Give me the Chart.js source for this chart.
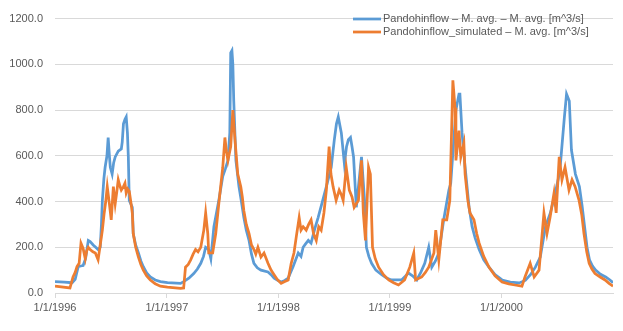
<!DOCTYPE html>
<html>
<head>
    <meta charset="UTF-8">
    <title>Pandoh inflow</title>
    <style type="text/css">
        body {
            background-color: white;
            margin: 0;
            padding: 0;
        }

        #lineChartContainer {
            width: 623px;
            height: 331px;
        }
    </style>

    <script src="https://cdn.jsdelivr.net/npm/chart.js@4.4.0/dist/chart.umd.min.js"></script>

    <script type="text/javascript">
    // days counted from 1/1/1996
    var obsDays = [0, 30, 56, 66, 76, 84, 92, 100, 109, 115,
        125, 133, 141, 148, 152, 155, 160, 164, 170, 174,
        178, 181, 187, 192, 197, 207, 217, 220, 224, 229,
        233, 237, 240, 243, 248, 253, 256, 264, 273, 281,
        289, 300, 312, 328, 345, 368, 411, 421, 438, 454,
        466, 477, 486, 493, 503, 510, 520, 536, 549, 558,
        566, 572, 575, 579, 582, 585, 592, 602, 610, 618,
        626, 635, 643, 651, 662, 674, 697, 707, 717, 730,
        740, 752, 763, 779, 796, 805, 812, 820, 829, 838,
        850, 861, 875, 888, 904, 914, 921, 927, 937, 947,
        954, 960, 967, 972, 977, 986, 993, 1003, 1013, 1019,
        1027, 1036, 1050, 1069, 1085, 1101, 1134, 1157, 1170, 1184,
        1197, 1210, 1223, 1233, 1245, 1256, 1272, 1289, 1295, 1305,
        1312, 1322, 1325, 1332, 1342, 1355, 1365, 1375, 1388, 1403,
        1420, 1440, 1463, 1490, 1519, 1539, 1556, 1572, 1588, 1605,
        1621, 1637, 1647, 1654, 1667, 1674, 1683, 1690, 1703, 1716,
        1725, 1733, 1741, 1749, 1759, 1769, 1785, 1802, 1815, 1826];
    var obsFlow = [50, 48, 45, 60, 115, 118, 120, 150, 230, 225,
        210, 200, 190, 200, 300, 405, 500, 550, 600, 680,
        600, 550, 520, 570, 595, 620, 630, 660, 740, 760,
        770, 700, 595, 405, 390, 375, 260, 210, 175, 140,
        115, 88, 70, 57, 50, 45, 42, 50, 65, 85,
        105, 130, 160, 200, 190, 150, 290, 405, 510, 545,
        580, 700, 1050, 1060, 1000, 840, 580, 465, 400, 330,
        275, 230, 170, 130, 110, 100, 92, 80, 65, 55,
        48, 55, 65, 115, 175, 160, 200, 215, 230, 218,
        280, 330, 400, 465, 550, 670, 740, 770, 700, 565,
        640, 670, 680, 640, 595, 375, 465, 595, 405, 200,
        160, 130, 100, 80, 65, 57, 57, 87, 75, 57,
        90, 130, 200, 113, 140, 175, 320, 450, 480, 670,
        800, 870, 870, 700, 550, 375, 290, 240, 190, 145,
        113, 80, 57, 48, 44, 55, 80, 113, 157, 290,
        350, 437, 500, 565, 770, 870, 840, 625, 520, 465,
        380, 290, 200, 145, 118, 100, 82, 70, 58, 45];

    var simDays = [0, 49, 59, 66, 72, 79, 85, 92, 99, 104,
        109, 115, 124, 132, 141, 148, 155, 161, 166, 171,
        178, 184, 191, 197, 202, 207, 212, 217, 224, 229,
        233, 238, 243, 248, 253, 256, 264, 273, 281, 289,
        300, 312, 328, 345, 368, 411, 421, 427, 436, 444,
        452, 460, 468, 477, 487, 493, 500, 503, 516, 526,
        536, 549, 556, 561, 566, 575, 582, 589, 598, 608,
        613, 618, 626, 635, 643, 651, 657, 664, 674, 684,
        697, 707, 717, 728, 740, 752, 763, 773, 782, 790,
        799, 805, 812, 822, 830, 838, 846, 855, 863, 871,
        880, 888, 897, 903, 910, 920, 930, 937, 943, 953,
        963, 972, 979, 986, 993, 1003, 1009, 1016, 1026, 1032,
        1039, 1048, 1059, 1075, 1092, 1108, 1124, 1144, 1161, 1174,
        1180, 1200, 1212, 1223, 1240, 1246, 1256, 1269, 1282, 1292,
        1302, 1309, 1312, 1322, 1328, 1338, 1342, 1351, 1358, 1371,
        1380, 1388, 1403, 1420, 1440, 1463, 1485, 1505, 1528, 1538,
        1555, 1568, 1584, 1600, 1610, 1620, 1633, 1640, 1650, 1659,
        1669, 1682, 1692, 1702, 1715, 1724, 1731, 1740, 1748, 1757,
        1767, 1784, 1800, 1813, 1826];
    var simFlow = [30, 22, 70, 90, 115, 130, 218, 195, 150, 185,
        200, 190, 180, 175, 145, 210, 275, 350, 400, 465,
        390, 320, 465, 390, 440, 495, 470, 450, 465, 480,
        437, 455, 445, 400, 350, 260, 200, 157, 125, 100,
        75, 57, 40, 30, 26, 20, 22, 113, 125, 145,
        170, 190, 180, 200, 275, 350, 260, 175, 175, 260,
        390, 550, 680, 620, 580, 640, 800, 670, 520, 465,
        420, 360, 300, 260, 210, 190, 170, 200, 157, 175,
        130, 100, 80, 58, 42, 50, 57, 130, 175, 250,
        330, 275, 290, 275, 300, 320, 260, 230, 290, 275,
        350, 450, 640, 520, 465, 405, 450, 430, 405, 550,
        450, 420, 375, 390, 405, 580, 350, 230, 550, 520,
        200, 150, 113, 80, 57, 45, 35, 57, 113, 175,
        57, 70, 90, 113, 175, 275, 145, 320, 320, 405,
        930, 810, 580, 710, 595, 655, 520, 405, 350, 320,
        260, 218, 160, 113, 75, 48, 40, 35, 30, 70,
        130, 70, 100, 350, 260, 330, 437, 350, 595, 495,
        550, 450, 495, 465, 405, 340, 260, 180, 130, 105,
        85, 70, 57, 42, 30];

    var yearTickDays = [0, 366, 731, 1096, 1461];
    var yearTickLabels = ['1/1/1996', '1/1/1997', '1/1/1998', '1/1/1999', '1/1/2000'];

    var seriesLabels = ['Pandohinflow \u2013 M. avg. \u2013 M. avg. [m^3/s]',
        'Pandohinflow_simulated \u2013 M. avg. [m^3/s]'];

    function toPoints(days, values) {
        var pts = [];
        for (var i = 0; i < days.length; i++) {
            pts.push({ x: days[i], y: values[i] });
        }
        return pts;
    }

    // legend drawn as two stacked rows in the upper right
    var stackedLegend = {
        id: 'stackedLegend',
        afterDatasetsDraw: function (chart) {
            var ctx = chart.ctx;
            ctx.save();
            ctx.font = '11px "Liberation Sans", Arial, sans-serif';
            ctx.textBaseline = 'middle';
            chart.data.datasets.forEach(function (ds, i) {
                var y = 19 + i * 13;
                ctx.strokeStyle = ds.borderColor;
                ctx.lineWidth = 2.75;
                ctx.beginPath();
                ctx.moveTo(353, y);
                ctx.lineTo(381, y);
                ctx.stroke();
                ctx.fillStyle = '#595959';
                ctx.fillText(ds.label, 383, y);
            });
            ctx.restore();
        }
    };

    function drawLineChart() {
        var ctx = document.getElementById('lineChart').getContext('2d');
        new Chart(ctx, {
            type: 'line',
            data: {
                datasets: [{
                    label: seriesLabels[0],
                    data: toPoints(obsDays, obsFlow),
                    borderColor: '#5B9BD5',
                    borderWidth: 2.75,
                    pointRadius: 0,
                    fill: false,
                    order: 2
                }, {
                    label: seriesLabels[1],
                    data: toPoints(simDays, simFlow),
                    borderColor: '#ED7D31',
                    borderWidth: 2.75,
                    pointRadius: 0,
                    fill: false,
                    order: 1
                }]
            },
            options: {
                responsive: false,
                animation: false,
                layout: { padding: { top: 18, right: 10, left: 0, bottom: 0 } },
                plugins: {
                    legend: { display: false },
                    tooltip: { enabled: false }
                },
                scales: {
                    x: {
                        type: 'linear',
                        min: 0,
                        max: 1826,
                        afterBuildTicks: function (scale) {
                            scale.ticks = yearTickDays.map(function (d) { return { value: d }; });
                        },
                        afterFit: function (scale) { scale.height = 38; },
                        grid: {
                            drawOnChartArea: false,
                            drawTicks: true,
                            tickLength: 5,
                            color: '#d9d9d9'
                        },
                        border: { display: true, color: '#d9d9d9' },
                        ticks: {
                            autoSkip: false,
                            maxRotation: 0,
                            padding: 3,
                            color: '#595959',
                            font: { family: '"Liberation Sans", Arial, sans-serif', size: 11 },
                            callback: function (value) {
                                var idx = yearTickDays.indexOf(value);
                                return idx >= 0 ? yearTickLabels[idx] : '';
                            }
                        }
                    },
                    y: {
                        min: 0,
                        max: 1200,
                        afterFit: function (scale) { scale.width = 55; },
                        grid: { color: '#d9d9d9', drawTicks: false },
                        border: { display: false },
                        ticks: {
                            stepSize: 200,
                            padding: 12,
                            color: '#595959',
                            font: { family: '"Liberation Sans", Arial, sans-serif', size: 11 },
                            callback: function (value) { return value.toFixed(1); }
                        }
                    }
                }
            },
            plugins: [stackedLegend]
        });
    }

    document.addEventListener("DOMContentLoaded", function () {
        drawLineChart();
    });
    </script>
</head>
<body>
    <div id="lineChartContainer">
        <canvas id="lineChart" width="623" height="331"></canvas>
    </div>
</body>
</html>
